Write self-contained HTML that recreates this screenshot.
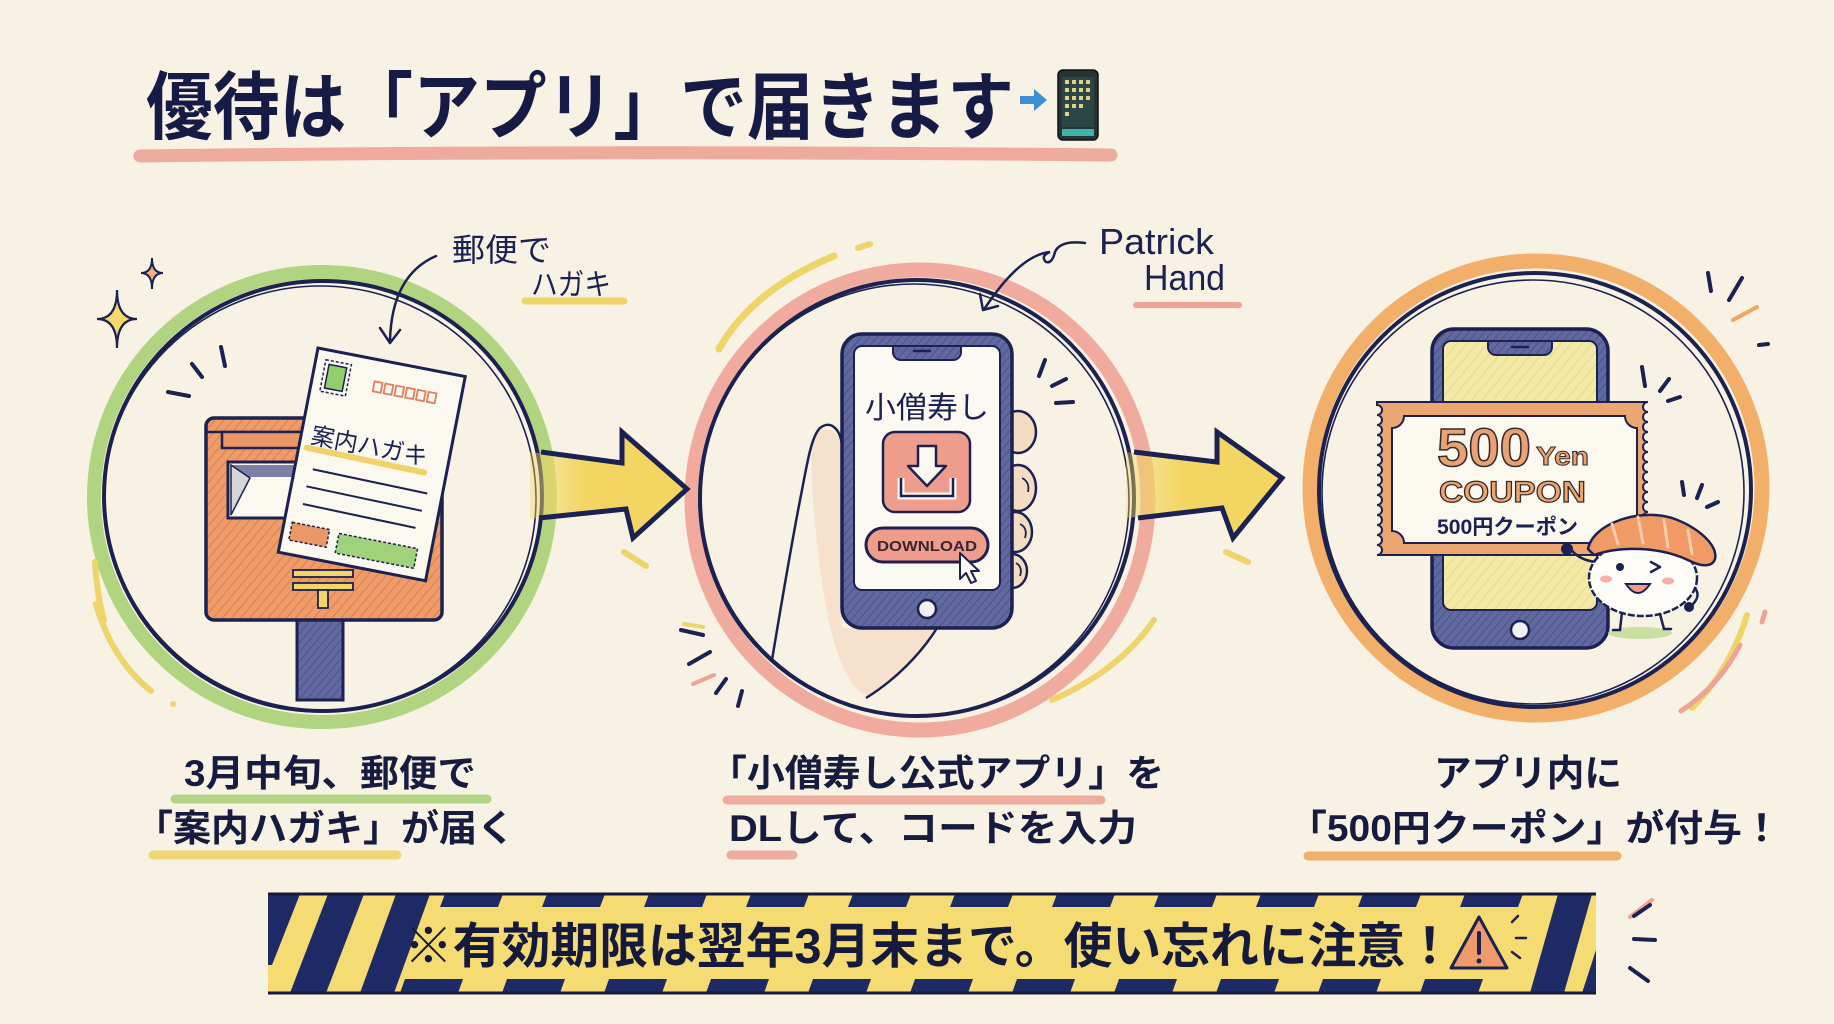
<!DOCTYPE html>
<html><head><meta charset="utf-8">
<style>
html,body{margin:0;padding:0;background:#f7f2e3;}
svg{display:block}
text{font-family:"Liberation Sans","Noto Sans CJK JP",sans-serif;}
</style></head><body>
<svg width="1834" height="1024" viewBox="0 0 1834 1024" xmlns="http://www.w3.org/2000/svg">
<defs>
 <pattern id="hatchO" width="7" height="7" patternUnits="userSpaceOnUse" patternTransform="rotate(40)">
   <rect width="7" height="7" fill="#ee9c6a"/>
   <line x1="0" y1="0" x2="0" y2="7" stroke="#e3824f" stroke-width="2.5"/>
 </pattern>
 <pattern id="hatchN" width="6" height="6" patternUnits="userSpaceOnUse" patternTransform="rotate(40)">
   <rect width="6" height="6" fill="#6169a0"/>
   <line x1="0" y1="0" x2="0" y2="6" stroke="#4a5288" stroke-width="2"/>
 </pattern>
 <pattern id="hatchY" width="8" height="8" patternUnits="userSpaceOnUse" patternTransform="rotate(40)">
   <rect width="8" height="8" fill="#f3e9a9"/>
   <line x1="0" y1="0" x2="0" y2="8" stroke="#ecdd8c" stroke-width="2.5"/>
 </pattern>
 <linearGradient id="arrowFade" x1="0" y1="0" x2="1" y2="0">
   <stop offset="0" stop-color="#f3d662" stop-opacity="0.35"/>
   <stop offset="0.35" stop-color="#f3d662" stop-opacity="1"/>
   <stop offset="1" stop-color="#f3d662" stop-opacity="1"/>
 </linearGradient>
 <clipPath id="bannerClip"><rect x="268" y="894" width="1328" height="99"/></clipPath>
</defs>

<rect width="1834" height="1024" fill="#f7f2e3"/>

<!-- TITLE -->
<path d="M140 156 Q 600 150 1111 155" stroke="#eca293" stroke-width="13" stroke-linecap="round" fill="none" opacity="0.9"/>
<text x="146" y="133" font-size="74" font-weight="700" fill="#161b45" textLength="868" lengthAdjust="spacingAndGlyphs">優待は「アプリ」で届きます</text>
<path d="M1020 96 h14 v-7 l13 11 l-13 11 v-7 h-14z" fill="#3a8fd6"/>
<rect x="1058" y="70" width="40" height="70" rx="5" fill="#253333" stroke="#111" stroke-width="1.5"/>
<rect x="1062" y="77" width="32" height="50" fill="#2c4545"/>
<g fill="#e1cf8a">
 <rect x="1065" y="80" width="4" height="4"/><rect x="1072" y="80" width="4" height="4"/><rect x="1079" y="80" width="4" height="4"/><rect x="1086" y="80" width="4" height="4"/>
 <rect x="1065" y="88" width="4" height="4"/><rect x="1072" y="88" width="4" height="4"/><rect x="1079" y="88" width="4" height="4"/><rect x="1086" y="88" width="4" height="4"/>
 <rect x="1065" y="96" width="4" height="4"/><rect x="1072" y="96" width="4" height="4"/><rect x="1079" y="96" width="4" height="4"/><rect x="1086" y="96" width="4" height="4"/>
 <rect x="1065" y="104" width="4" height="4"/><rect x="1072" y="104" width="4" height="4"/><rect x="1079" y="104" width="4" height="4"/>
 <rect x="1065" y="112" width="4" height="4"/>
</g>
<rect x="1062" y="129" width="32" height="7" fill="#3bb5a8"/>

<!-- ===== CIRCLE 1 ===== -->
<ellipse cx="322" cy="497" rx="228" ry="225" stroke="#a7d074" stroke-width="14" fill="none" opacity="0.9"/>
<ellipse cx="323" cy="496" rx="219" ry="215" stroke="#1b2150" stroke-width="4" fill="none"/>
<ellipse cx="320" cy="499" rx="216" ry="213" stroke="#1b2150" stroke-width="1.6" fill="none"/>
<!-- decor -->
<path d="M95 562 Q 97 595 104 620" stroke="#efd46a" stroke-width="6" stroke-linecap="round" fill="none"/>
<path d="M96 604 Q 112 660 151 691" stroke="#efd46a" stroke-width="6" stroke-linecap="round" fill="none"/>
<circle cx="173" cy="704" r="3" fill="#efd46a"/>
<path d="M117 290 Q 117 319 137 319 Q 117 319 117 348 Q 117 319 97 319 Q 117 319 117 290 Z" fill="#f6d86a" stroke="#1b2150" stroke-width="2.2"/>
<path d="M152 258 Q 152 273 163 273 Q 152 273 152 289 Q 152 273 141 273 Q 152 273 152 258 Z" fill="#f0b27a" stroke="#1b2150" stroke-width="2"/>
<g stroke="#1b2150" stroke-width="4" stroke-linecap="round">
 <path d="M168 392 L189 396"/><path d="M192 364 L202 377"/><path d="M221 347 L225 366"/>
</g>
<!-- annotation -->
<text x="452" y="261" font-size="32" fill="#1b2150" textLength="99" lengthAdjust="spacingAndGlyphs">郵便で</text>
<path d="M525 301 L624 301" stroke="#efd46a" stroke-width="7" stroke-linecap="round"/>
<text x="531" y="295" font-size="30" fill="#1b2150" textLength="80" lengthAdjust="spacingAndGlyphs">ハガキ</text>
<path d="M436 256 Q 392 275 390 340" stroke="#1b2150" stroke-width="2.5" fill="none" stroke-linecap="round"/>
<path d="M380 328 L390 343 L400 330" stroke="#1b2150" stroke-width="2.5" fill="none" stroke-linecap="round" stroke-linejoin="round"/>
<!-- postbox -->
<rect x="297" y="618" width="46" height="82" fill="url(#hatchN)" stroke="#1b2150" stroke-width="3"/>
<rect x="206" y="418" width="236" height="202" rx="8" fill="url(#hatchO)" stroke="#1b2150" stroke-width="3.5"/>
<line x1="206" y1="432" x2="300" y2="432" stroke="#1b2150" stroke-width="2.5"/>
<rect x="222" y="432" width="80" height="16" fill="#ec9866" stroke="#1b2150" stroke-width="2.5"/>
<rect x="228" y="462" width="72" height="56" fill="#fbf8ef" stroke="#1b2150" stroke-width="3"/>
<rect x="231" y="465" width="68" height="12" fill="#7c80a6"/>
<path d="M231 465 L250 478 L231 515 Z" fill="#d6d6d6" stroke="#1b2150" stroke-width="1.5"/>
<g fill="#f3d56a" stroke="#1b2150" stroke-width="1.8">
 <rect x="293" y="570" width="60" height="7"/><rect x="293" y="583" width="60" height="7"/><rect x="318" y="590" width="10" height="18"/>
</g>
<!-- postcard -->
<g transform="translate(318 348) rotate(11)">
 <rect x="0" y="0" width="150" height="208" fill="#fbf8ef" stroke="#1b2150" stroke-width="3"/>
 <rect x="10" y="10" width="26" height="32" fill="none" stroke="#1b2150" stroke-dasharray="3 2" stroke-width="1.5"/>
 <rect x="14" y="14" width="18" height="24" fill="#8fd06a" stroke="#1b2150" stroke-width="1.5"/>
 <g fill="none" stroke="#e07f5c" stroke-width="1.8">
  <rect x="62" y="22" width="8" height="10"/><rect x="73" y="22" width="8" height="10"/><rect x="84" y="22" width="8" height="10"/><rect x="95" y="22" width="8" height="10"/><rect x="106" y="22" width="8" height="10"/><rect x="117" y="22" width="8" height="10"/>
 </g>
 <path d="M8 100 L128 102" stroke="#efd26a" stroke-width="6" stroke-linecap="round"/>
 <text x="10" y="95" font-size="24" fill="#1b2150" textLength="118" lengthAdjust="spacingAndGlyphs">案内ハガキ</text>
 <g stroke="#1b2150" stroke-width="2"><path d="M18 120 L135 122"/><path d="M15 138 L133 140"/><path d="M15 156 L130 158"/></g>
 <rect x="8" y="176" width="38" height="18" fill="#ec9866" stroke="#1b2150" stroke-dasharray="3 2" stroke-width="1.5"/>
 <rect x="56" y="178" width="80" height="20" fill="#9fd27a" stroke="#1b2150" stroke-dasharray="3 2" stroke-width="1.5"/>
</g>

<!-- ===== CIRCLE 2 ===== -->
<path d="M719 349 Q 752 290 834 256" stroke="#efd46a" stroke-width="7" stroke-linecap="round" fill="none"/>
<path d="M858 248 L870 244" stroke="#efd46a" stroke-width="6" stroke-linecap="round"/>
<ellipse cx="920" cy="500" rx="228" ry="230" stroke="#eea396" stroke-width="15" fill="none" opacity="0.9"/>
<ellipse cx="917" cy="498" rx="217" ry="218" stroke="#1b2150" stroke-width="4" fill="none"/>
<ellipse cx="914" cy="500" rx="215" ry="216" stroke="#1b2150" stroke-width="1.6" fill="none"/>
<path d="M1154 620 Q 1120 670 1052 700" stroke="#efd46a" stroke-width="6" stroke-linecap="round" fill="none"/>
<g stroke-width="4" stroke-linecap="round">
 <path d="M684 624 L703 627" stroke="#efd46a"/>
 <path d="M681 630 L703 635" stroke="#1b2150"/>
 <path d="M689 664 L710 652" stroke="#1b2150"/>
 <path d="M693 684 L714 675" stroke="#eea396"/>
 <path d="M716 693 L726 679" stroke="#1b2150"/>
 <path d="M738 706 L742 691" stroke="#1b2150"/>
</g>
<g stroke="#1b2150" stroke-width="4" stroke-linecap="round">
 <path d="M1039 376 L1045 360"/><path d="M1052 386 L1066 379"/><path d="M1056 403 L1073 402"/>
</g>
<!-- Patrick Hand -->
<text x="1099" y="254" font-size="36" fill="#1b2150" textLength="115" lengthAdjust="spacingAndGlyphs">Patrick</text>
<path d="M1136 305 L1239 305" stroke="#eea396" stroke-width="6" stroke-linecap="round"/>
<text x="1144" y="290" font-size="36" fill="#1b2150" textLength="81" lengthAdjust="spacingAndGlyphs">Hand</text>
<path d="M1085 243 Q 1060 240 1055 252 Q 1052 264 1046 262 Q 1040 256 1050 252 Q 1020 255 985 308" stroke="#1b2150" stroke-width="2.5" fill="none" stroke-linecap="round"/>
<path d="M980 294 L983 310 L998 306" stroke="#1b2150" stroke-width="2.5" fill="none" stroke-linecap="round" stroke-linejoin="round"/>
<!-- hand -->
<path d="M812 440 C 820 425, 836 425, 842 445 L 842 628 L 935 628 C 915 660, 890 685, 868 696 C 850 690, 835 660, 825 600 C 815 540, 810 480, 812 440 Z" fill="#f6e2cc" stroke="none"/>
<path d="M772 660 C 782 600, 792 540, 802 490 C 808 458, 812 436, 820 428 C 830 420, 840 428, 842 445" stroke="#1b2150" stroke-width="2.5" fill="none"/>
<path d="M866 698 C 895 680, 920 655, 937 628" stroke="#1b2150" stroke-width="2.5" fill="none"/>
<g fill="#f4dcc3" stroke="#1b2150" stroke-width="2.5">
 <ellipse cx="1018" cy="432" rx="18" ry="21"/>
 <ellipse cx="1018" cy="488" rx="18" ry="23"/>
 <ellipse cx="1015" cy="532" rx="17" ry="20"/>
 <ellipse cx="1012" cy="571" rx="15" ry="17"/>
</g>
<g stroke="#1b2150" stroke-width="1.8" fill="none">
 <path d="M1022 478 q 8 4 6 14"/><path d="M1020 524 q 8 4 5 14"/><path d="M1016 563 q 7 4 4 13"/>
</g>
<!-- phone 2 -->
<rect x="842" y="334" width="170" height="294" rx="20" fill="url(#hatchN)" stroke="#1b2150" stroke-width="3.5"/>
<rect x="854" y="346" width="146" height="244" rx="8" fill="#fbf9f1" stroke="#1b2150" stroke-width="2"/>
<path d="M893 346 h68 v6 a8 8 0 0 1 -8 8 h-52 a8 8 0 0 1 -8 -8z" fill="url(#hatchN)" stroke="#1b2150" stroke-width="2"/>
<path d="M914 351 h16" stroke="#1b2150" stroke-width="2.5" stroke-linecap="round"/>
<circle cx="927" cy="609" r="9" fill="#f0f0f5" stroke="#1b2150" stroke-width="2.5"/>
<text x="927" y="418" font-size="30" fill="#1b2150" text-anchor="middle" textLength="124" lengthAdjust="spacingAndGlyphs">小僧寿し</text>
<rect x="883" y="432" width="87" height="80" rx="12" fill="#ee9d8d" stroke="#1b2150" stroke-width="2.5"/>
<path d="M901 478 v18 h52 v-18" stroke="#fbf8ef" stroke-width="7" fill="none"/>
<path d="M901 478 v18 h52 v-18" stroke="#1b2150" stroke-width="2.5" fill="none"/>
<path d="M918 446 h18 v20 h10 l-19 20 l-19 -20 h10 z" fill="#fbf8ef" stroke="#1b2150" stroke-width="2.5" stroke-linejoin="round"/>
<rect x="866" y="528" width="122" height="34" rx="17" fill="#ee9d8d" stroke="#1b2150" stroke-width="3"/>
<text x="927" y="551" font-size="15" font-weight="700" fill="#3a2530" text-anchor="middle" textLength="100" lengthAdjust="spacingAndGlyphs">DOWNLOAD</text>
<path d="M960 553 l0 26 l6 -6 l5 10 l5 -2 l-5 -10 l8 0 z" fill="#fbf8ef" stroke="#1b2150" stroke-width="2" stroke-linejoin="round"/>

<!-- ===== CIRCLE 3 ===== -->
<ellipse cx="1536" cy="488" rx="226" ry="227" stroke="#efa75b" stroke-width="15" fill="none" opacity="0.9"/>
<ellipse cx="1535" cy="490" rx="216" ry="217" stroke="#1b2150" stroke-width="4" fill="none"/>
<ellipse cx="1533" cy="492" rx="211" ry="212" stroke="#1b2150" stroke-width="1.6" fill="none"/>
<g stroke-width="4" stroke-linecap="round">
 <path d="M1708 273 L1711 291" stroke="#1b2150"/>
 <path d="M1742 278 L1729 300" stroke="#1b2150"/>
 <path d="M1733 320 L1757 307" stroke="#efa75b"/>
 <path d="M1759 345 L1768 344" stroke="#1b2150"/>
 <path d="M1642 367 L1645 386" stroke="#1b2150"/>
 <path d="M1669 379 L1660 391" stroke="#1b2150"/>
 <path d="M1668 401 L1680 397" stroke="#1b2150"/>
 <path d="M1682 482 L1684 495" stroke="#1b2150"/>
 <path d="M1702 485 L1697 498" stroke="#1b2150"/>
 <path d="M1707 507 L1718 502" stroke="#1b2150"/>
</g>
<path d="M1747 615 Q 1730 670 1692 708" stroke="#efd46a" stroke-width="6" stroke-linecap="round" fill="none"/>
<path d="M1740 645 Q 1720 685 1681 711" stroke="#eda396" stroke-width="5" stroke-linecap="round" fill="none"/>
<path d="M1765 612 L1762 622" stroke="#eda396" stroke-width="5" stroke-linecap="round"/>
<!-- phone 3 -->
<rect x="1432" y="329" width="176" height="319" rx="22" fill="url(#hatchN)" stroke="#1b2150" stroke-width="3.5"/>
<rect x="1443" y="341" width="154" height="269" rx="8" fill="url(#hatchY)" stroke="#1b2150" stroke-width="2"/>
<path d="M1488 341 h64 v6 a8 8 0 0 1 -8 8 h-48 a8 8 0 0 1 -8 -8z" fill="url(#hatchN)" stroke="#1b2150" stroke-width="2"/>
<path d="M1512 347 h16" stroke="#1b2150" stroke-width="2.5" stroke-linecap="round"/>
<circle cx="1520" cy="630" r="9" fill="#f0f0f5" stroke="#1b2150" stroke-width="2.5"/>
<!-- coupon -->
<path d="M1377 402 H1648
 a5 5 0 0 0 0 10 a5 5 0 0 0 0 10 a5 5 0 0 0 0 10 a5 5 0 0 0 0 10 a5 5 0 0 0 0 10 a5 5 0 0 0 0 10 a5 5 0 0 0 0 10 a5 5 0 0 0 0 10 a5 5 0 0 0 0 10 a5 5 0 0 0 0 10 a5 5 0 0 0 0 10 a5 5 0 0 0 0 10 a5 5 0 0 0 0 10 a5 5 0 0 0 0 10 a5 5 0 0 0 0 10 L1648 555 H1377
 a5 5 0 0 0 0 -10 a5 5 0 0 0 0 -10 a5 5 0 0 0 0 -10 a5 5 0 0 0 0 -10 a5 5 0 0 0 0 -10 a5 5 0 0 0 0 -10 a5 5 0 0 0 0 -10 a5 5 0 0 0 0 -10 a5 5 0 0 0 0 -10 a5 5 0 0 0 0 -10 a5 5 0 0 0 0 -10 a5 5 0 0 0 0 -10 a5 5 0 0 0 0 -10 a5 5 0 0 0 0 -10 a5 5 0 0 0 0 -10 Z" fill="#eca66f" stroke="#1b2150" stroke-width="2"/>
<path d="M1404 416 H1625 A12 12 0 0 0 1637 428 V531 A12 12 0 0 0 1625 543 H1404 A12 12 0 0 0 1392 531 V428 A12 12 0 0 0 1404 416 Z" fill="#fbf8ef" stroke="#1b2150" stroke-width="2"/>
<text x="1437" y="466" font-size="54" font-weight="700" fill="#e9a274" stroke="#3a2a2a" stroke-width="1.5" textLength="94" lengthAdjust="spacingAndGlyphs">500</text>
<text x="1536" y="465" font-size="26" font-weight="700" fill="#e9a274" stroke="#3a2a2a" stroke-width="1" textLength="53" lengthAdjust="spacingAndGlyphs">Yen</text>
<text x="1439" y="502" font-size="30" font-weight="700" fill="#eca66f" stroke="#3a2a2a" stroke-width="1.2" textLength="147" lengthAdjust="spacingAndGlyphs">COUPON</text>
<text x="1437" y="534" font-size="21" font-weight="700" fill="#1b2150" textLength="141" lengthAdjust="spacingAndGlyphs">500円クーポン</text>
<!-- mascot -->
<ellipse cx="1640" cy="633" rx="32" ry="6" fill="#b9d98c" opacity="0.75"/>
<g stroke="#1b2150" stroke-width="2.5" fill="none" stroke-linecap="round">
 <path d="M1596 562 q -18 -2 -26 -14"/>
 <path d="M1692 585 q 12 10 -2 22"/>
 <path d="M1622 612 l-2 18 h-7"/>
 <path d="M1660 614 l4 15 h7"/>
</g>
<circle cx="1567" cy="549" r="6" fill="#1b2150"/>
<circle cx="1689" cy="607" r="5" fill="#1b2150"/>
<ellipse cx="1643" cy="578" rx="54" ry="38" fill="#fdfcf7" stroke="#1b2150" stroke-width="2.5" stroke-dasharray="7 2"/>
<path d="M1588 549 C 1593 523, 1640 508, 1672 518 C 1698 527, 1718 545, 1715 559 C 1712 568, 1700 566, 1690 561 C 1660 546, 1620 546, 1594 555 Z" fill="#f29a66" stroke="#1b2150" stroke-width="2.5"/>
<g stroke="#f8cbab" stroke-width="3" stroke-linecap="round">
 <path d="M1612 524 L1618 544"/><path d="M1638 517 L1643 543"/><path d="M1664 520 L1668 547"/><path d="M1688 530 L1692 554"/>
</g>
<circle cx="1620" cy="567" r="4" fill="#1b2150"/>
<path d="M1651 562 l9 5 l-9 5" stroke="#1b2150" stroke-width="2.5" fill="none" stroke-linecap="round" stroke-linejoin="round"/>
<path d="M1626 584 q 12 18 24 0 z" fill="#f19a8a" stroke="#1b2150" stroke-width="2"/>
<ellipse cx="1606" cy="579" rx="6" ry="3.5" fill="#f5b0a8"/>
<ellipse cx="1668" cy="581" rx="6" ry="3.5" fill="#f5b0a8"/>

<!-- ===== ARROWS ===== -->
<path d="M530 452 L622 463 L622 432 L687 489 L633 538 L626 509 L530 519 Z" fill="url(#arrowFade)"/>
<path d="M541 452 L622 463 L622 432 L687 489 L633 538 L626 509 L539 518" stroke="#1b2150" stroke-width="5" fill="none" stroke-linejoin="miter"/>
<path d="M624 552 L646 566" stroke="#efd46a" stroke-width="6" stroke-linecap="round"/>
<path d="M1126 452 L1217 462 L1217 432 L1282 478 L1233 538 L1222 508 L1126 518 Z" fill="url(#arrowFade)"/>
<path d="M1134 452 L1217 462 L1217 432 L1282 478 L1233 538 L1222 508 L1138 518" stroke="#1b2150" stroke-width="5" fill="none" stroke-linejoin="miter"/>
<path d="M1226 552 L1248 562" stroke="#efd46a" stroke-width="6" stroke-linecap="round"/>

<!-- ===== BOTTOM TEXTS ===== -->
<g stroke-width="9" stroke-linecap="round" opacity="0.9">
 <path d="M175 799 L487 799" stroke="#a9d07a"/>
 <path d="M153 855 L397 855" stroke="#f0d36a"/>
 <path d="M727 800 L1101 800" stroke="#eea597"/>
 <path d="M731 855 L793 855" stroke="#eea597"/>
 <path d="M1308 856 L1617 856" stroke="#f0aa60"/>
</g>
<g font-size="37" font-weight="700" fill="#161b3f">
 <text x="184" y="786" textLength="292" lengthAdjust="spacingAndGlyphs">3月中旬、郵便で</text>
 <text x="135" y="841" textLength="380" lengthAdjust="spacingAndGlyphs">「案内ハガキ」が届く</text>
 <text x="709" y="786" textLength="455" lengthAdjust="spacingAndGlyphs">「小僧寿し公式アプリ」を</text>
 <text x="729" y="841" textLength="408" lengthAdjust="spacingAndGlyphs">DLして、コードを入力</text>
 <text x="1434" y="786" textLength="188" lengthAdjust="spacingAndGlyphs">アプリ内に</text>
 <text x="1288" y="841" textLength="493" lengthAdjust="spacingAndGlyphs">「500円クーポン」が付与！</text>
</g>

<!-- ===== BANNER ===== -->
<rect x="268" y="894" width="1328" height="99" fill="#f4dc72"/>
<g clip-path="url(#bannerClip)" fill="#1e2a66">
 <polygon points="268,894 300,894 272,965 268,965"/>
 <polygon points="290,993 326,993 364,894 328,894"/>
 <polygon points="360,993 394,993 430,894 396,894"/>
 <polygon points="1530,993 1564,993 1592,894 1558,894"/>
 <polygon points="1582,993 1596,993 1596,950"/>
 <polygon points="440,907 498,907 503,894 445,894"/>
 <polygon points="542,907 600,907 605,894 547,894"/>
 <polygon points="644,907 702,907 707,894 649,894"/>
 <polygon points="746,907 804,907 809,894 751,894"/>
 <polygon points="848,907 906,907 911,894 853,894"/>
 <polygon points="950,907 1008,907 1013,894 955,894"/>
 <polygon points="1052,907 1110,907 1115,894 1057,894"/>
 <polygon points="1154,907 1212,907 1217,894 1159,894"/>
 <polygon points="1256,907 1314,907 1319,894 1261,894"/>
 <polygon points="1358,907 1416,907 1421,894 1363,894"/>
 <polygon points="1460,907 1518,907 1523,894 1465,894"/>
 <polygon points="400,993 458,993 463,979 405,979"/>
 <polygon points="502,993 560,993 565,979 507,979"/>
 <polygon points="604,993 662,993 667,979 609,979"/>
 <polygon points="706,993 764,993 769,979 711,979"/>
 <polygon points="808,993 866,993 871,979 813,979"/>
 <polygon points="910,993 968,993 973,979 915,979"/>
 <polygon points="1012,993 1070,993 1075,979 1017,979"/>
 <polygon points="1114,993 1172,993 1177,979 1119,979"/>
 <polygon points="1216,993 1274,993 1279,979 1221,979"/>
 <polygon points="1318,993 1376,993 1381,979 1323,979"/>
 <polygon points="1420,993 1478,993 1483,979 1425,979"/>
</g>
<path d="M268 894 H1596 M268 993 H1596" stroke="#151a3d" stroke-width="3"/>
<text x="404" y="963" font-size="49" font-weight="700" fill="#151a3d" textLength="1050" lengthAdjust="spacingAndGlyphs">※有効期限は翌年3月末まで。使い忘れに注意！</text>
<path d="M1479 917 L1507 968 L1451 968 Z" fill="#ef9a6a" stroke="#1b2150" stroke-width="3" stroke-linejoin="round"/>
<path d="M1479 933 L1479 953" stroke="#1b2150" stroke-width="4" stroke-linecap="round"/>
<circle cx="1479" cy="961" r="2.5" fill="#1b2150"/>
<g stroke="#1b2150" stroke-width="2.5" stroke-linecap="round">
 <path d="M1512 922 L1518 916"/><path d="M1516 938 L1526 938"/><path d="M1512 952 L1520 958"/>
</g>
<g stroke-width="4" stroke-linecap="round">
 <path d="M1630 917 L1652 900" stroke="#eda396"/>
 <path d="M1634 916 L1650 905" stroke="#1b2150"/>
 <path d="M1634 939 L1655 940" stroke="#1b2150"/>
 <path d="M1630 968 L1648 981" stroke="#1b2150"/>
</g>
</svg>
</body></html>
